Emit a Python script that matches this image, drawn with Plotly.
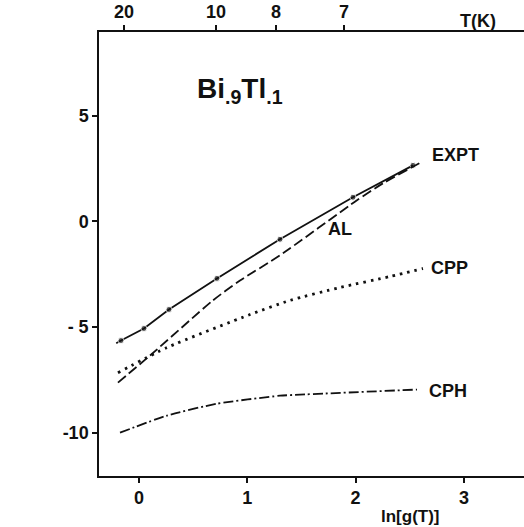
import plotly.graph_objects as go

# ---- data ----
expt_x = [-0.21, -0.166, 0.046, 0.277, 0.720, 1.302, 1.976, 2.530]
expt_y = [-5.77, -5.64, -5.07, -4.17, -2.70, -0.85, 1.14, 2.65]
expt_measured = [False, True, True, True, True, True, True, True]

al_x = [-0.194, 0.102, 0.683, 0.933, 1.302, 2.013, 2.253, 2.622]
al_y = [-7.63, -6.35, -3.74, -2.80, -1.61, 1.00, 1.80, 2.84]

cpp_x = [-0.194, 0.259, 1.025, 1.394, 1.856, 2.318, 2.622]
cpp_y = [-7.16, -5.97, -4.41, -3.74, -3.13, -2.61, -2.23]

cph_x = [-0.175, 0.259, 0.720, 1.302, 1.487, 2.567]
cph_y = [-10.0, -9.19, -8.63, -8.25, -8.20, -7.96]

x_ticks = [0, 1, 2, 3]
y_ticks = [-10, -5, 0, 5]
y_ticktext = ["-10", "- 5", "0", "5"]
T_labels = ["20", "10", "8", "7"]
T_pos = [-0.139, 0.711, 1.265, 1.893]   # ln[g(T)] at these temperatures

INK = "#111111"
FONT = dict(family="Liberation Sans, Arial, sans-serif", color=INK, size=18, weight="bold")

fig = go.Figure()

fig.add_trace(go.Scatter(
    x=expt_x, y=expt_y, mode="lines+markers",
    line=dict(color=INK, width=1.8),
    marker=dict(color=INK, size=[6 if m else 0 for m in expt_measured]),
    showlegend=False, hoverinfo="skip"))

fig.add_trace(go.Scatter(
    x=al_x, y=al_y, mode="lines",
    line=dict(color=INK, width=1.8, dash="10px,4px", shape="spline", smoothing=0.6),
    showlegend=False, hoverinfo="skip"))

fig.add_trace(go.Scatter(
    x=cpp_x, y=cpp_y, mode="lines",
    line=dict(color=INK, width=2.8, dash="2.5px,5px", shape="spline", smoothing=0.6),
    showlegend=False, hoverinfo="skip"))

fig.add_trace(go.Scatter(
    x=cph_x, y=cph_y, mode="lines",
    line=dict(color=INK, width=1.8, dash="10px,3px,2px,3px", shape="spline", smoothing=0.6),
    showlegend=False, hoverinfo="skip"))

# invisible trace to make the top (temperature) axis render
fig.add_trace(go.Scatter(
    x=T_pos, y=[0] * len(T_pos), xaxis="x2", mode="markers",
    marker=dict(opacity=0), showlegend=False, hoverinfo="skip"))

x_range = [-0.369, 3.555]
y_range = [-12.05, 8.96]

axis_common = dict(showline=True, linecolor=INK, linewidth=1.5, ticks="outside",
                   ticklen=5, tickwidth=1.5, tickcolor=INK, showgrid=False,
                   zeroline=False, tickfont=FONT)

fig.update_layout(
    width=524, height=527,
    margin=dict(l=99, r=0, t=32, b=51),
    paper_bgcolor="white", plot_bgcolor="white",
    xaxis=dict(range=x_range, tickvals=x_ticks, **axis_common),
    xaxis2=dict(range=x_range, overlaying="x", side="top", anchor="y",
                tickvals=T_pos, ticktext=T_labels, **axis_common),
    yaxis=dict(range=y_range, tickvals=y_ticks, ticktext=y_ticktext, **axis_common),
)

def ann(text, x, y, xref="x", yref="y", size=18, xanchor="center", yanchor="middle",
        xshift=0, yshift=0):
    fig.add_annotation(text=text, x=x, y=y, xref=xref, yref=yref, showarrow=False,
                       xanchor=xanchor, yanchor=yanchor, xshift=xshift, yshift=yshift,
                       font=dict(FONT, size=size))

# curve labels
ann("EXPT", al_x[-1], al_y[-1], xanchor="left", xshift=7, yshift=6)
ann("AL", 1.856, -0.38)
ann("CPP", cpp_x[-1], cpp_y[-1], xanchor="left", xshift=6)
ann("CPH", cph_x[-1], cph_y[-1], xanchor="left", xshift=10, yshift=-1)

# compound label
ann("Bi<sub>.9</sub>Tl<sub>.1</sub>", 0.52, 6.2, size=28, xanchor="left")

# axis titles
ann("ln(|a<sub>2</sub>|)", -0.896, 2.75, size=17)
ann("ln[g(T)]", 2.51, -0.092, yref="paper", size=17)
ann("T(K)", 3.13, 1.025, yref="paper", size=18)

fig.write_html("out.html", config={"displayModeBar": False})
